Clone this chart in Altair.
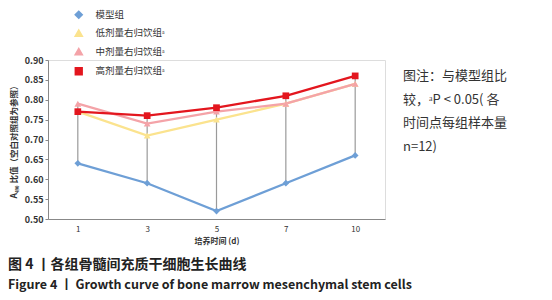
import altair as alt
import pandas as pd

days = ["1", "3", "5", "7", "10"]
groups = ["模型组", "低剂量右归饮组ᵃ", "中剂量右归饮组ᵃ", "高剂量右归饮组ᵃ"]
model = [0.64, 0.59, 0.52, 0.59, 0.66]
low = [0.77, 0.71, 0.75, 0.79, 0.84]
mid = [0.79, 0.74, 0.77, 0.79, 0.84]
high = [0.77, 0.76, 0.78, 0.81, 0.86]
colors = ["#6E9FD6", "#FBE38E", "#F4A3A8", "#E3161E"]
shapes = ["diamond", "triangle-up", "triangle-up", "square"]

note_lines = ["图注：与模型组比", "较，ᵃP < 0.05( 各", "时间点每组样本量", "n=12)"]
caption_cn = "图 4 丨各组骨髓间充质干细胞生长曲线"
caption_en = "Figure 4 丨 Growth curve of bone marrow mesenchymal stem cells"

rows = []
for g, vals in zip(groups, [model, low, mid, high]):
    for k, (d, v) in enumerate(zip(days, vals)):
        rows.append({"day": d, "k": k, "group": g, "value": v})
df = pd.DataFrame(rows)
rng = df.groupby("day", sort=False)["value"].agg(["min", "max"]).reset_index()

W, H = 337, 159
xscale = alt.Scale(type="point", padding=0.43, domain=days)
yscale = alt.Scale(domain=[0.5, 0.9])
xaxis = alt.Axis(title="培养时间 (d)", labelAngle=0, ticks=False, labelFontSize=8,
                 labelColor="#333", titleFontSize=8, titleFontWeight="bold",
                 titleColor="#333", domainColor="#888", labelPadding=6, titlePadding=4)
yaxis = alt.Axis(title="A₄₉₀ 比值（空白对照组为参照）",
                 values=[0.5, 0.55, 0.6, 0.65, 0.7, 0.75, 0.8, 0.85, 0.9],
                 format=".2f", grid=False, tickSize=3, labelFontSize=9, labelFontWeight="bold",
                 labelColor="#333", titleFontSize=8.5, titleColor="#333", domainColor="#888",
                 tickColor="#888", titlePadding=6)


def X():
    return alt.X("day:O", sort=days, scale=xscale, axis=xaxis)


def Y(field):
    return alt.Y(f"{field}:Q", scale=yscale, axis=yaxis)


rules = alt.Chart(rng).mark_rule(color="#9a9a9a", strokeWidth=1.2).encode(
    x=X(), y=Y("min"), y2="max:Q")

color = alt.Color("group:N", sort=groups, scale=alt.Scale(domain=groups, range=colors),
                  legend=alt.Legend(title=None, orient="none", legendX=26, legendY=-50,
                                    labelFontSize=9.5, labelColor="#333", rowPadding=4.5,
                                    labelOffset=12, symbolSize=40, symbolStrokeWidth=2))
shape = alt.Shape("group:N", sort=groups, scale=alt.Scale(domain=groups, range=shapes), legend=None)

lines = alt.Chart(df).mark_line(strokeWidth=2.3).encode(
    x=X(), y=Y("value"), color=color, detail="group:N", order=alt.Order("k:Q"))
points = alt.Chart(df).mark_point(filled=True, size=45, opacity=1).encode(
    x=X(), y=Y("value"), color=color, shape=shape)

base = alt.Chart(pd.DataFrame({"a": [0]}))
note = base.mark_text(align="left", baseline="top", fontSize=13, color="#333", lineHeight=23.5).encode(
    text=alt.value(note_lines), x=alt.value(355), y=alt.value(10))
cap1 = base.mark_text(align="left", baseline="middle", fontSize=14, fontWeight="bold", color="#222").encode(
    text=alt.value(caption_cn), x=alt.value(-40), y=alt.value(205))
cap2 = base.mark_text(align="left", baseline="middle", fontSize=12.5, fontWeight="bold", color="#222").encode(
    text=alt.value(caption_en), x=alt.value(-40), y=alt.value(225))

chart = alt.layer(rules, lines, points, note, cap1, cap2).properties(
    width=W, height=H,
    autosize=alt.AutoSizeParams(type="none"),
    padding={"left": 48, "top": 60, "right": 552 - 48 - W, "bottom": 300 - 60 - H},
).configure_view(stroke=None).configure(font="Noto Sans CJK SC", background="white")

chart.save("out.html", embed_options={"renderer": "svg", "actions": False})
